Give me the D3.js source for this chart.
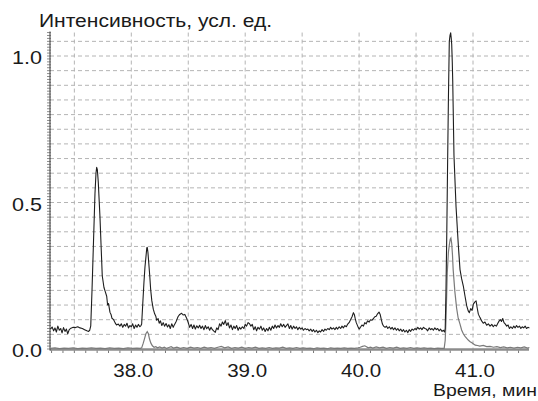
<!DOCTYPE html>
<html>
<head>
<meta charset="utf-8">
<script src="https://cdn.jsdelivr.net/npm/d3@7"></script>
<style>
  body { margin: 0; background: #fff; }
  svg { display: block; font-family: "Liberation Sans", Arial, sans-serif; }
  .grid line { stroke: #b4b4b4; stroke-width: 1; stroke-dasharray: 4,3; }
</style>
</head>
<body>
<svg id="chart" width="538" height="401"></svg>
<script>

/*    ========    DATA    =========    */

var yTicks = [0.0, 0.5, 1.0];
var xTicks = [38.0, 39.0, 40.0, 41.0];
var yLabel = "Интенсивность, усл. ед.";
var xLabel = "Время, мин";

// upper (black) trace: [time, intensity]
var blackTrace = [
  [37.290, 0.068], [37.305, 0.075], [37.318, 0.062], [37.330, 0.072], [37.342, 0.058],
  [37.355, 0.078], [37.368, 0.064], [37.380, 0.070], [37.392, 0.055], [37.405, 0.073],
  [37.418, 0.060], [37.430, 0.068], [37.442, 0.052], [37.455, 0.066], [37.470, 0.071],
  [37.490, 0.074], [37.510, 0.073], [37.530, 0.076], [37.550, 0.072], [37.570, 0.070],
  [37.590, 0.066], [37.610, 0.062], [37.625, 0.060], [37.635, 0.064],
  [37.644, 0.079], [37.655, 0.200], [37.666, 0.339], [37.681, 0.530], [37.690, 0.600],
  [37.696, 0.620], [37.702, 0.612], [37.710, 0.570], [37.725, 0.450], [37.735, 0.350],
  [37.745, 0.250], [37.760, 0.210], [37.772, 0.195], [37.784, 0.180], [37.792, 0.150],
  [37.800, 0.155], [37.813, 0.125], [37.822, 0.118], [37.830, 0.105], [37.845, 0.100],
  [37.857, 0.090], [37.870, 0.082], [37.886, 0.085], [37.900, 0.078], [37.912, 0.086],
  [37.925, 0.074], [37.938, 0.084], [37.950, 0.078], [37.962, 0.088], [37.975, 0.072],
  [37.988, 0.080], [38.000, 0.076], [38.012, 0.086], [38.025, 0.070], [38.038, 0.082],
  [38.050, 0.074], [38.062, 0.084], [38.075, 0.076], [38.085, 0.080],
  [38.091, 0.085], [38.100, 0.150], [38.111, 0.227], [38.120, 0.280], [38.129, 0.316],
  [38.136, 0.345], [38.140, 0.347], [38.146, 0.330], [38.153, 0.295], [38.162, 0.250],
  [38.170, 0.203], [38.180, 0.165], [38.193, 0.136], [38.205, 0.120], [38.215, 0.112],
  [38.223, 0.098], [38.235, 0.104], [38.245, 0.088], [38.256, 0.096], [38.268, 0.080],
  [38.280, 0.090], [38.292, 0.078], [38.305, 0.087], [38.318, 0.075], [38.330, 0.083],
  [38.342, 0.070], [38.355, 0.086], [38.368, 0.074], [38.380, 0.084], [38.395, 0.095],
  [38.410, 0.110], [38.425, 0.118], [38.442, 0.122], [38.455, 0.116], [38.470, 0.118],
  [38.486, 0.105], [38.500, 0.090], [38.512, 0.074], [38.525, 0.084], [38.538, 0.070],
  [38.550, 0.082], [38.562, 0.068], [38.575, 0.079], [38.588, 0.072], [38.600, 0.081],
  [38.612, 0.070], [38.625, 0.078], [38.638, 0.066], [38.650, 0.080], [38.662, 0.069],
  [38.675, 0.076], [38.688, 0.064], [38.700, 0.074], [38.712, 0.066], [38.725, 0.061],
  [38.737, 0.057], [38.750, 0.072], [38.762, 0.066], [38.775, 0.086], [38.788, 0.078],
  [38.800, 0.092], [38.812, 0.084], [38.825, 0.097], [38.838, 0.080], [38.850, 0.090],
  [38.862, 0.072], [38.875, 0.082], [38.888, 0.066], [38.900, 0.078], [38.912, 0.070],
  [38.925, 0.080], [38.938, 0.064], [38.950, 0.074], [38.962, 0.068], [38.975, 0.076],
  [38.988, 0.070], [39.000, 0.084], [39.012, 0.078], [39.025, 0.090], [39.038, 0.086],
  [39.050, 0.078], [39.062, 0.084], [39.075, 0.066], [39.088, 0.076], [39.100, 0.062],
  [39.112, 0.074], [39.125, 0.068], [39.138, 0.078], [39.150, 0.064], [39.162, 0.072],
  [39.175, 0.060], [39.188, 0.070], [39.200, 0.062], [39.212, 0.074], [39.225, 0.064],
  [39.238, 0.078], [39.250, 0.070], [39.262, 0.082], [39.275, 0.072], [39.288, 0.080],
  [39.300, 0.074], [39.312, 0.086], [39.325, 0.076], [39.338, 0.084], [39.350, 0.074],
  [39.362, 0.080], [39.375, 0.086], [39.388, 0.070], [39.400, 0.080], [39.412, 0.068],
  [39.425, 0.078], [39.438, 0.070], [39.450, 0.076], [39.462, 0.066], [39.475, 0.074],
  [39.488, 0.068], [39.500, 0.072], [39.512, 0.064], [39.525, 0.070], [39.538, 0.066],
  [39.550, 0.068], [39.562, 0.062], [39.575, 0.068], [39.588, 0.060], [39.600, 0.066],
  [39.612, 0.058], [39.625, 0.064], [39.638, 0.056], [39.650, 0.062], [39.662, 0.058],
  [39.675, 0.066], [39.688, 0.060], [39.700, 0.068], [39.712, 0.064], [39.725, 0.070],
  [39.738, 0.066], [39.750, 0.074], [39.762, 0.068], [39.775, 0.072], [39.788, 0.066],
  [39.800, 0.074], [39.812, 0.068], [39.825, 0.076], [39.838, 0.070], [39.850, 0.078],
  [39.862, 0.072], [39.875, 0.080], [39.888, 0.076], [39.900, 0.085], [39.912, 0.090],
  [39.925, 0.100], [39.938, 0.110], [39.950, 0.124], [39.958, 0.118], [39.965, 0.105],
  [39.975, 0.090], [39.988, 0.078], [40.000, 0.068], [40.012, 0.074], [40.025, 0.082],
  [40.038, 0.078], [40.050, 0.090], [40.062, 0.086], [40.075, 0.096], [40.088, 0.092],
  [40.100, 0.100], [40.112, 0.098], [40.125, 0.104], [40.138, 0.110], [40.150, 0.112],
  [40.162, 0.120], [40.175, 0.126], [40.185, 0.118], [40.195, 0.100], [40.205, 0.085],
  [40.215, 0.078], [40.228, 0.074], [40.240, 0.078], [40.252, 0.070], [40.265, 0.076],
  [40.278, 0.068], [40.290, 0.074], [40.302, 0.066], [40.315, 0.072], [40.328, 0.064],
  [40.340, 0.070], [40.352, 0.062], [40.365, 0.068], [40.378, 0.060], [40.390, 0.066],
  [40.402, 0.058], [40.415, 0.064], [40.428, 0.056], [40.440, 0.066], [40.452, 0.060],
  [40.465, 0.068], [40.478, 0.064], [40.490, 0.070], [40.502, 0.066], [40.515, 0.074],
  [40.528, 0.068], [40.540, 0.072], [40.552, 0.066], [40.565, 0.074], [40.578, 0.070],
  [40.590, 0.068], [40.602, 0.062], [40.615, 0.072], [40.628, 0.066], [40.640, 0.070],
  [40.652, 0.064], [40.665, 0.072], [40.678, 0.066], [40.690, 0.070], [40.702, 0.062],
  [40.715, 0.068], [40.728, 0.060], [40.740, 0.064], [40.750, 0.058],
  [40.756, 0.070], [40.763, 0.203], [40.770, 0.400], [40.776, 0.600], [40.784, 0.850],
  [40.792, 1.050], [40.798, 1.070], [40.804, 1.079], [40.809, 1.060], [40.813, 1.040],
  [40.818, 0.980], [40.822, 0.915], [40.833, 0.660], [40.851, 0.486], [40.871, 0.355],
  [40.886, 0.271], [40.900, 0.240], [40.915, 0.215], [40.930, 0.180], [40.945, 0.147],
  [40.958, 0.130], [40.968, 0.124], [40.980, 0.138], [40.992, 0.132], [41.003, 0.153],
  [41.015, 0.160], [41.027, 0.164], [41.037, 0.140], [41.047, 0.119], [41.060, 0.108],
  [41.076, 0.096], [41.090, 0.088], [41.105, 0.092], [41.120, 0.081], [41.135, 0.086],
  [41.150, 0.078], [41.165, 0.084], [41.178, 0.076], [41.190, 0.082], [41.205, 0.078],
  [41.218, 0.088], [41.230, 0.096], [41.240, 0.100], [41.250, 0.094], [41.261, 0.104],
  [41.272, 0.090], [41.284, 0.085], [41.296, 0.078], [41.308, 0.082], [41.320, 0.070],
  [41.332, 0.076], [41.345, 0.070], [41.358, 0.078], [41.370, 0.072], [41.382, 0.080],
  [41.395, 0.074], [41.408, 0.078], [41.420, 0.070], [41.432, 0.076], [41.445, 0.072],
  [41.458, 0.078], [41.470, 0.070], [41.482, 0.074], [41.495, 0.072]
];

// lower (grey) trace: [time, intensity]
var greyTrace = [
  [37.290, 0.002], [37.330, 0.004], [37.370, 0.001], [37.410, 0.003], [37.450, 0.002],
  [37.490, 0.004], [37.530, 0.001], [37.570, 0.003], [37.610, 0.002], [37.650, 0.004],
  [37.690, 0.002], [37.730, 0.003], [37.770, 0.001], [37.810, 0.004], [37.850, 0.002],
  [37.890, 0.003], [37.930, 0.001], [37.970, 0.004], [38.010, 0.002], [38.050, 0.003],
  [38.080, 0.002], [38.091, 0.004], [38.105, 0.020], [38.115, 0.034], [38.128, 0.052],
  [38.140, 0.059], [38.150, 0.052], [38.160, 0.034], [38.172, 0.020], [38.185, 0.011],
  [38.200, 0.006], [38.215, 0.008], [38.230, 0.004], [38.250, 0.007], [38.270, 0.003],
  [38.290, 0.006], [38.310, 0.002], [38.330, 0.005], [38.350, 0.008], [38.370, 0.003],
  [38.400, 0.006], [38.430, 0.002], [38.460, 0.005], [38.490, 0.002], [38.520, 0.006],
  [38.550, 0.003], [38.580, 0.005], [38.610, 0.002], [38.640, 0.006], [38.670, 0.003],
  [38.700, 0.005], [38.730, 0.002], [38.760, 0.006], [38.790, 0.009], [38.820, 0.004],
  [38.850, 0.007], [38.880, 0.002], [38.910, 0.005], [38.940, 0.003], [38.970, 0.006],
  [39.000, 0.002], [39.030, 0.005], [39.060, 0.003], [39.090, 0.006], [39.120, 0.002],
  [39.150, 0.004], [39.180, 0.002], [39.210, 0.005], [39.240, 0.002], [39.270, 0.004],
  [39.300, 0.003], [39.330, 0.006], [39.360, 0.002], [39.390, 0.004], [39.420, 0.002],
  [39.450, 0.005], [39.480, 0.002], [39.510, 0.004], [39.540, 0.002], [39.570, 0.003],
  [39.600, 0.001], [39.630, 0.004], [39.660, 0.002], [39.690, 0.003], [39.720, 0.001],
  [39.750, 0.004], [39.780, 0.002], [39.810, 0.003], [39.840, 0.002], [39.870, 0.004],
  [39.900, 0.002], [39.930, 0.003], [39.960, 0.002], [39.990, 0.004], [40.010, 0.006],
  [40.030, 0.009], [40.050, 0.011], [40.065, 0.008], [40.080, 0.004], [40.100, 0.006],
  [40.120, 0.003], [40.150, 0.007], [40.180, 0.004], [40.210, 0.006], [40.240, 0.002],
  [40.270, 0.005], [40.300, 0.003], [40.330, 0.006], [40.360, 0.002], [40.390, 0.004],
  [40.420, 0.002], [40.450, 0.005], [40.480, 0.002], [40.510, 0.004], [40.540, 0.002],
  [40.570, 0.004], [40.600, 0.002], [40.630, 0.003], [40.660, 0.001], [40.690, 0.003],
  [40.720, 0.002], [40.747, 0.002], [40.756, 0.030], [40.763, 0.100], [40.774, 0.260],
  [40.784, 0.330], [40.792, 0.355], [40.800, 0.375], [40.806, 0.379], [40.813, 0.360],
  [40.820, 0.320], [40.826, 0.270], [40.841, 0.195], [40.856, 0.140], [40.870, 0.105],
  [40.886, 0.085], [40.900, 0.065], [40.915, 0.052], [40.930, 0.043], [40.945, 0.036],
  [40.960, 0.030], [40.975, 0.025], [40.990, 0.021], [41.005, 0.017], [41.020, 0.013],
  [41.040, 0.012], [41.060, 0.010], [41.090, 0.012], [41.120, 0.008], [41.150, 0.009],
  [41.180, 0.006], [41.210, 0.008], [41.240, 0.005], [41.270, 0.007], [41.300, 0.004],
  [41.330, 0.006], [41.360, 0.003], [41.390, 0.006], [41.420, 0.004], [41.450, 0.007],
  [41.480, 0.003], [41.495, 0.005]
];

/*    ========    SETTINGS    =========    */

var svg = d3.select('#chart');

var X_LEFT = 50, X_RIGHT = 529;
var Y_TOP_VAL = 1.08;

var x = d3.scaleLinear().domain([38.0, 41.0]).range([131.3, 473]);
var y = d3.scaleLinear().domain([0.0, 1.0]).range([349, 56]);

var xMin = x.invert(X_LEFT), xMax = x.invert(X_RIGHT);

/*    ========    GRID    =========    */

// horizontal dashed grid every 0.05
var hGrid = d3.range(1, 22).map(function(i) { return i * 0.05; });
svg.append("g").attr("class", "grid")
    .selectAll("line").data(hGrid).enter().append("line")
    .attr("x1", X_LEFT).attr("x2", X_RIGHT)
    .attr("y1", function(d) { return y(d); })
    .attr("y2", function(d) { return y(d); });

// vertical dashed grid every 0.5 min
var vGrid = [37.5, 38.0, 38.5, 39.0, 39.5, 40.0, 40.5, 41.0];
svg.append("g").attr("class", "grid")
    .selectAll("line").data(vGrid).enter().append("line")
    .attr("x1", function(d) { return x(d); })
    .attr("x2", function(d) { return x(d); })
    .attr("y1", y(Y_TOP_VAL)).attr("y2", y(0));

/*    ========    AXES    =========    */

// bottom axis: thick grey band with small ticks
svg.append("line")
    .attr("x1", X_LEFT).attr("x2", X_RIGHT)
    .attr("y1", y(0) + 0.5).attr("y2", y(0) + 0.5)
    .attr("stroke", "#8c8c8c").attr("stroke-width", 2.5);

var xMinor = d3.range(Math.ceil(xMin * 10), Math.floor(xMax * 10) + 1)
    .map(function(i) { return i / 10; });
svg.append("g").selectAll("line").data(xMinor).enter().append("line")
    .attr("x1", function(d) { return x(d); })
    .attr("x2", function(d) { return x(d); })
    .attr("y1", y(0) + 1.5).attr("y2", y(0) + 4)
    .attr("stroke", "#777").attr("stroke-width", 1);

// left axis: ruler-like with fine ticks every 0.01
var yMinor = d3.range(0, 109).map(function(i) { return i / 100; });
svg.append("g").selectAll("line").data(yMinor).enter().append("line")
    .attr("x1", X_LEFT - 3).attr("x2", X_LEFT + 1)
    .attr("y1", function(d) { return y(d); })
    .attr("y2", function(d) { return y(d); })
    .attr("stroke", "#707070").attr("stroke-width", 0.8);

svg.append("line")
    .attr("x1", X_LEFT).attr("x2", X_LEFT)
    .attr("y1", y(Y_TOP_VAL) - 1).attr("y2", y(0) + 1.5)
    .attr("stroke", "#555").attr("stroke-width", 1.2);

/*    ========    TRACES    =========    */

var line = d3.line()
    .x(function(d) { return x(d[0]); })
    .y(function(d) { return y(d[1]); });

svg.append("path")
    .datum(greyTrace)
    .attr("fill", "none")
    .attr("stroke", "#7a7a7a")
    .attr("stroke-width", 1.2)
    .attr("d", line);

svg.append("path")
    .datum(blackTrace)
    .attr("fill", "none")
    .attr("stroke", "#1e1e1e")
    .attr("stroke-width", 1.1)
    .attr("stroke-linejoin", "round")
    .attr("d", line);

/*    ========    LABELS    =========    */

svg.append("g").selectAll("text").data(yTicks).enter().append("text")
    .attr("x", 42)
    .attr("y", function(d) { return y(d) + 8; })
    .attr("text-anchor", "end")
    .attr("font-size", 18)
    .attr("fill", "#1a1a1a")
    .attr("textLength", 30)
    .attr("lengthAdjust", "spacingAndGlyphs")
    .text(function(d) { return d.toFixed(1); });

svg.append("g").selectAll("text").data(xTicks).enter().append("text")
    .attr("x", function(d) { return x(d) + 2; })
    .attr("y", 377)
    .attr("text-anchor", "middle")
    .attr("font-size", 17.5)
    .attr("fill", "#1a1a1a")
    .attr("textLength", 40)
    .attr("lengthAdjust", "spacingAndGlyphs")
    .text(function(d) { return d.toFixed(1); });

svg.append("text")
    .attr("x", 39).attr("y", 27)
    .attr("font-size", 17.5)
    .attr("fill", "#1a1a1a")
    .attr("textLength", 233)
    .attr("lengthAdjust", "spacingAndGlyphs")
    .text(yLabel);

svg.append("text")
    .attr("x", 433).attr("y", 396)
    .attr("font-size", 16.5)
    .attr("fill", "#1a1a1a")
    .attr("textLength", 104)
    .attr("lengthAdjust", "spacingAndGlyphs")
    .text(xLabel);

</script>
</body>
</html>
